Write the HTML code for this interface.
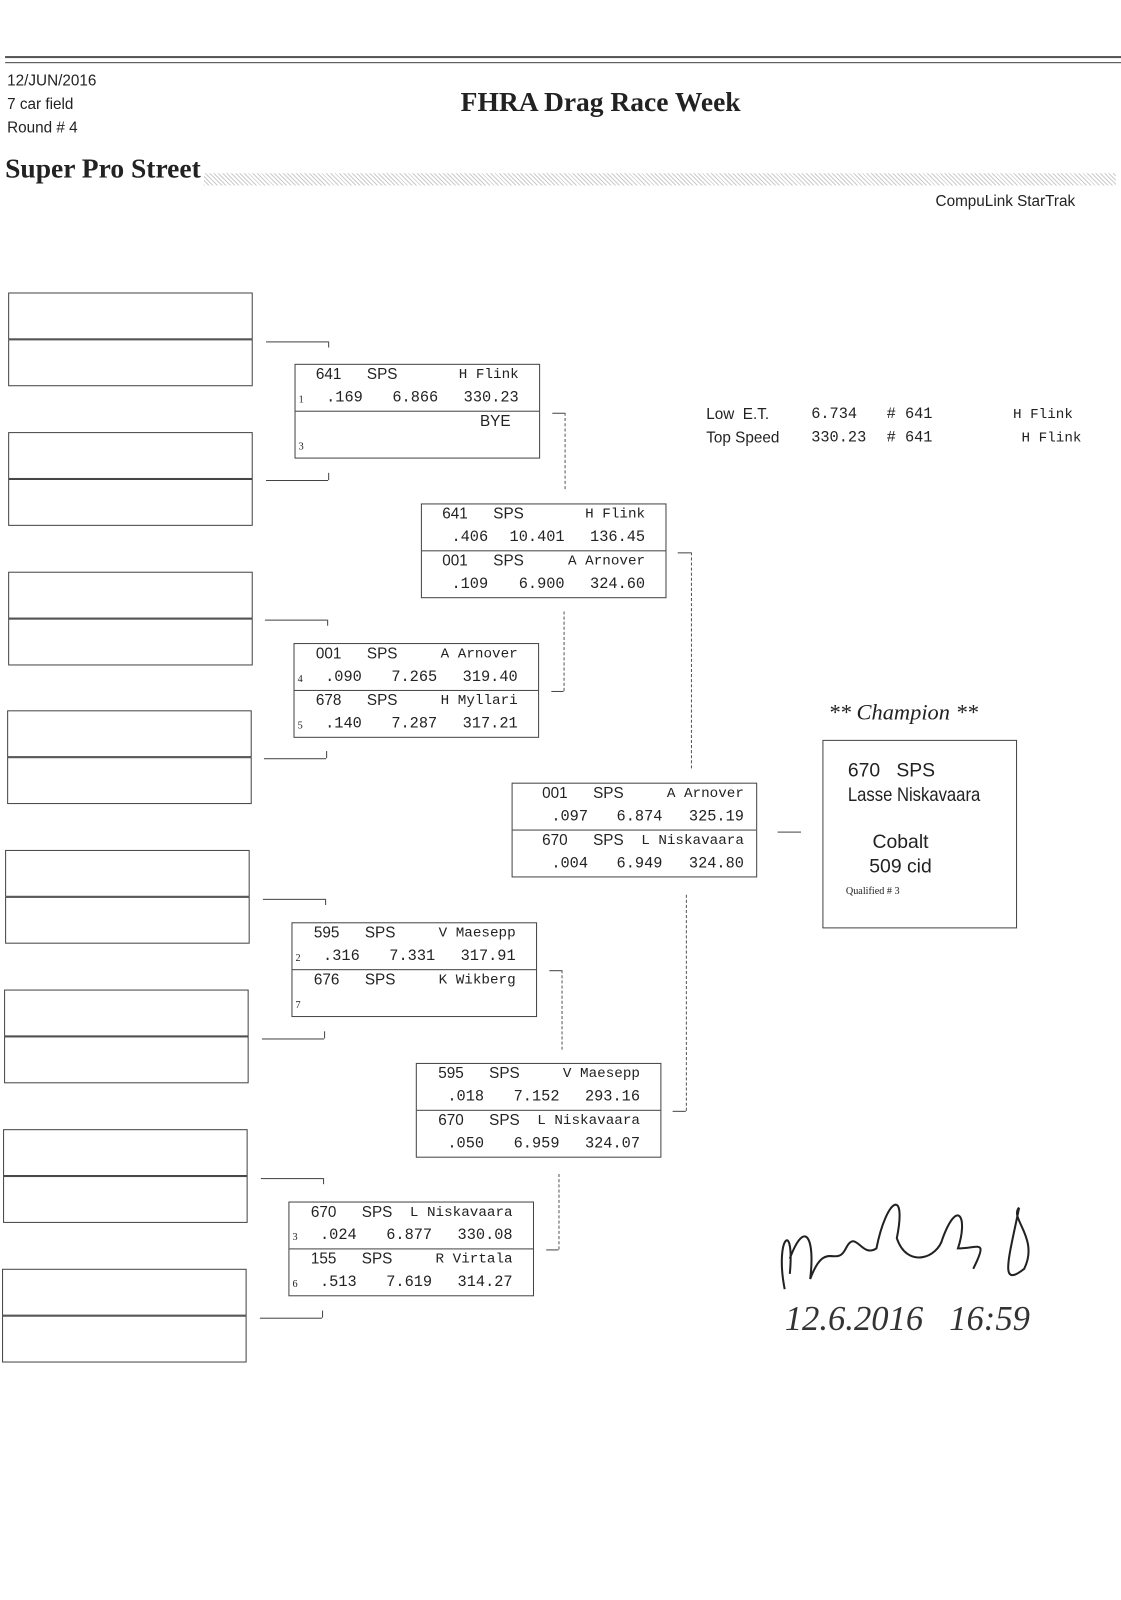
<!DOCTYPE html>
<html><head><meta charset="utf-8"><style>
body{margin:0;background:#fff;}
#w{position:relative;width:1121px;height:1600px;overflow:hidden;}
#p{position:absolute;left:0;top:0;width:1100px;height:1570px;transform:scale(1.0191);transform-origin:0 0;font-family:"Liberation Sans",sans-serif;color:#222;}
.a{position:absolute;}
.e{position:absolute;border:1px solid #444;width:240px;height:46px;box-sizing:border-box;}
.b{position:absolute;border:1px solid #444;width:241px;height:93px;box-sizing:border-box;font-size:15px;}
.b .d{position:absolute;left:0;right:0;top:45px;border-top:1px solid #444;}
.b span{position:absolute;line-height:18px;white-space:pre;}
.m{font-family:"Liberation Mono",monospace;font-size:15px;}
.n{font-family:"Liberation Mono",monospace;font-size:14px;}
.s{font-family:"Liberation Serif",serif;font-size:10px!important;}
.h{position:absolute;border-top:1px solid #444;}
.v{position:absolute;border-left:1px solid #444;}
.dv{position:absolute;border-left:1px dashed #555;}
</style></head><body><div id="w"><div id="p">
<div class="h" style="left:5px;top:55px;width:1095px;border-top:2px solid #555"></div>
<div class="h" style="left:5px;top:61px;width:1095px"></div>
<div class="a" style="left:7px;top:68px;font-size:15px;line-height:23px">12/JUN/2016<br>7 car field<br>Round # 4</div>
<div class="a" style="left:452px;top:85px;font-family:'Liberation Serif',serif;font-weight:bold;font-size:27px">FHRA Drag Race Week</div>
<div class="a" style="left:5px;top:150px;font-family:'Liberation Serif',serif;font-weight:bold;font-size:27px">Super Pro Street</div>
<div class="a" style="left:200px;top:170px;width:895px;height:12px;background:repeating-linear-gradient(45deg,#ccc 0 1px,#fff 1px 3px)"></div>
<div class="a" style="left:918px;top:189px;font-size:15px">CompuLink StarTrak</div>

<div class="e" style="left:8px;top:287px"></div><div class="e" style="left:8px;top:333px"></div>
<div class="e" style="left:8px;top:424px"></div><div class="e" style="left:8px;top:470px"></div>
<div class="e" style="left:8px;top:561px"></div><div class="e" style="left:8px;top:607px"></div>
<div class="e" style="left:7px;top:697px"></div><div class="e" style="left:7px;top:743px"></div>
<div class="e" style="left:5px;top:834px"></div><div class="e" style="left:5px;top:880px"></div>
<div class="e" style="left:4px;top:971px"></div><div class="e" style="left:4px;top:1017px"></div>
<div class="e" style="left:3px;top:1108px"></div><div class="e" style="left:3px;top:1154px"></div>
<div class="e" style="left:2px;top:1245px"></div><div class="e" style="left:2px;top:1291px"></div>

<div class="h" style="left:261px;top:335px;width:61px"></div><div class="v" style="left:322px;top:335px;height:6px"></div>
<div class="h" style="left:261px;top:471px;width:61px"></div><div class="v" style="left:322px;top:464px;height:7px"></div>
<div class="h" style="left:260px;top:608px;width:61px"></div><div class="v" style="left:321px;top:608px;height:6px"></div>
<div class="h" style="left:259px;top:744px;width:61px"></div><div class="v" style="left:320px;top:737px;height:7px"></div>
<div class="h" style="left:258px;top:882px;width:61px"></div><div class="v" style="left:319px;top:882px;height:6px"></div>
<div class="h" style="left:257px;top:1019px;width:61px"></div><div class="v" style="left:318px;top:1012px;height:7px"></div>
<div class="h" style="left:256px;top:1156px;width:61px"></div><div class="v" style="left:317px;top:1156px;height:6px"></div>
<div class="h" style="left:255px;top:1293px;width:61px"></div><div class="v" style="left:316px;top:1286px;height:7px"></div>

<div class="b" style="left:289px;top:357px"><div class="d"></div>
<span style="left:20px;top:1px">641</span><span style="left:70px;top:1px">SPS</span><span class="n" style="right:20px;top:1px">H Flink</span>
<span class="s" style="left:3px;top:26px">1</span><span class="m" style="left:30px;top:24px">.169</span><span class="m" style="left:95px;top:24px">6.866</span><span class="m" style="right:20px;top:24px">330.23</span>
<span style="right:28px;top:47px">BYE</span><span class="s" style="left:3px;top:72px">3</span></div>

<div class="b" style="left:288px;top:631px"><div class="d"></div>
<span style="left:21px;top:1px">001</span><span style="left:71px;top:1px">SPS</span><span class="n" style="right:20px;top:1px">A Arnover</span>
<span class="s" style="left:3px;top:26px">4</span><span class="m" style="left:30px;top:24px">.090</span><span class="m" style="left:95px;top:24px">7.265</span><span class="m" style="right:20px;top:24px">319.40</span>
<span style="left:21px;top:47px">678</span><span style="left:71px;top:47px">SPS</span><span class="n" style="right:20px;top:47px">H Myllari</span>
<span class="s" style="left:3px;top:72px">5</span><span class="m" style="left:30px;top:70px">.140</span><span class="m" style="left:95px;top:70px">7.287</span><span class="m" style="right:20px;top:70px">317.21</span></div>

<div class="b" style="left:286px;top:905px"><div class="d"></div>
<span style="left:21px;top:1px">595</span><span style="left:71px;top:1px">SPS</span><span class="n" style="right:20px;top:1px">V Maesepp</span>
<span class="s" style="left:3px;top:26px">2</span><span class="m" style="left:30px;top:24px">.316</span><span class="m" style="left:95px;top:24px">7.331</span><span class="m" style="right:20px;top:24px">317.91</span>
<span style="left:21px;top:47px">676</span><span style="left:71px;top:47px">SPS</span><span class="n" style="right:20px;top:47px">K Wikberg</span>
<span class="s" style="left:3px;top:72px">7</span></div>

<div class="b" style="left:283px;top:1179px"><div class="d"></div>
<span style="left:21px;top:1px">670</span><span style="left:71px;top:1px">SPS</span><span class="n" style="right:20px;top:1px">L Niskavaara</span>
<span class="s" style="left:3px;top:26px">3</span><span class="m" style="left:30px;top:24px">.024</span><span class="m" style="left:95px;top:24px">6.877</span><span class="m" style="right:20px;top:24px">330.08</span>
<span style="left:21px;top:47px">155</span><span style="left:71px;top:47px">SPS</span><span class="n" style="right:20px;top:47px">R Virtala</span>
<span class="s" style="left:3px;top:72px">6</span><span class="m" style="left:30px;top:70px">.513</span><span class="m" style="left:95px;top:70px">7.619</span><span class="m" style="right:20px;top:70px">314.27</span></div>

<div class="b" style="left:413px;top:494px"><div class="d"></div>
<span style="left:20px;top:1px">641</span><span style="left:70px;top:1px">SPS</span><span class="n" style="right:20px;top:1px">H Flink</span>
<span class="m" style="left:29px;top:24px">.406</span><span class="m" style="left:86px;top:24px">10.401</span><span class="m" style="right:20px;top:24px">136.45</span>
<span style="left:20px;top:47px">001</span><span style="left:70px;top:47px">SPS</span><span class="n" style="right:20px;top:47px">A Arnover</span>
<span class="m" style="left:29px;top:70px">.109</span><span class="m" style="left:95px;top:70px">6.900</span><span class="m" style="right:20px;top:70px">324.60</span></div>

<div class="b" style="left:408px;top:1043px"><div class="d"></div>
<span style="left:21px;top:1px">595</span><span style="left:71px;top:1px">SPS</span><span class="n" style="right:20px;top:1px">V Maesepp</span>
<span class="m" style="left:30px;top:24px">.018</span><span class="m" style="left:95px;top:24px">7.152</span><span class="m" style="right:20px;top:24px">293.16</span>
<span style="left:21px;top:47px">670</span><span style="left:71px;top:47px">SPS</span><span class="n" style="right:20px;top:47px">L Niskavaara</span>
<span class="m" style="left:30px;top:70px">.050</span><span class="m" style="left:95px;top:70px">6.959</span><span class="m" style="right:20px;top:70px">324.07</span></div>

<div class="b" style="left:502px;top:768px"><div class="d"></div>
<span style="left:29px;top:1px">001</span><span style="left:79px;top:1px">SPS</span><span class="n" style="right:12px;top:1px">A Arnover</span>
<span class="m" style="left:38px;top:24px">.097</span><span class="m" style="left:102px;top:24px">6.874</span><span class="m" style="right:12px;top:24px">325.19</span>
<span style="left:29px;top:47px">670</span><span style="left:79px;top:47px">SPS</span><span class="n" style="right:12px;top:47px">L Niskavaara</span>
<span class="m" style="left:38px;top:70px">.004</span><span class="m" style="left:102px;top:70px">6.949</span><span class="m" style="right:12px;top:70px">324.80</span></div>

<div class="h" style="left:542px;top:405px;width:12px"></div><div class="dv" style="left:554px;top:405px;height:75px"></div>
<div class="h" style="left:541px;top:678px;width:12px"></div><div class="dv" style="left:553px;top:600px;height:78px"></div>
<div class="h" style="left:665px;top:542px;width:13px"></div><div class="dv" style="left:678px;top:542px;height:212px"></div>
<div class="h" style="left:660px;top:1090px;width:13px"></div><div class="dv" style="left:673px;top:878px;height:212px"></div>
<div class="h" style="left:539px;top:952px;width:12px"></div><div class="dv" style="left:551px;top:952px;height:78px"></div>
<div class="h" style="left:536px;top:1226px;width:12px"></div><div class="dv" style="left:548px;top:1152px;height:74px"></div>
<div class="h" style="left:763px;top:816px;width:23px"></div>

<div class="a" style="left:693px;top:395px;font-size:15px;line-height:23px">Low&nbsp; E.T.<br>Top Speed</div>
<div class="a m" style="left:796px;top:395px;line-height:23px">6.734<br>330.23</div>
<div class="a m" style="left:870px;top:395px;line-height:23px"># 641<br># 641</div>
<div class="a n" style="left:994px;top:396px;line-height:23px">H Flink<br>&nbsp;H Flink</div>

<div class="a" style="left:813px;top:686px;font-family:'Liberation Serif',serif;font-style:italic;font-size:22px">** Champion **</div>
<div class="a" style="left:807px;top:726px;width:191px;height:185px;border:1px solid #444;box-sizing:border-box">
<div class="a" style="left:24px;top:18px;font-size:19px;line-height:24px;white-space:nowrap">670&nbsp;&nbsp; SPS<br><span style="display:inline-block;transform:scaleX(0.86);transform-origin:0 0">Lasse Niskavaara</span></div>
<div class="a" style="left:45px;top:88px;font-size:19px;line-height:24px;text-align:center">Cobalt<br>509 cid</div>
<div class="a" style="left:22px;top:142px;font-family:'Liberation Serif',serif;font-size:10px">Qualified # 3</div>
</div>

<svg class="a" style="left:750px;top:1155px" width="320" height="170">
<path d="M20 110 C10 60 30 40 25 95 M25 80 C40 40 50 60 45 100 C60 60 70 90 80 70 C90 50 95 80 110 70 C120 20 140 10 130 60 C140 90 170 80 175 60 C190 20 200 40 190 70 C210 70 220 60 205 90 M250 30 C240 80 230 110 255 90 C270 60 240 40 250 30" stroke="#222" stroke-width="2" fill="none"/>
<text x="20" y="150" font-family="Liberation Serif,serif" font-style="italic" font-size="34" fill="#333">12.6.2016&#160;&#160; 16:59</text>
</svg>
</div></div></body></html>
